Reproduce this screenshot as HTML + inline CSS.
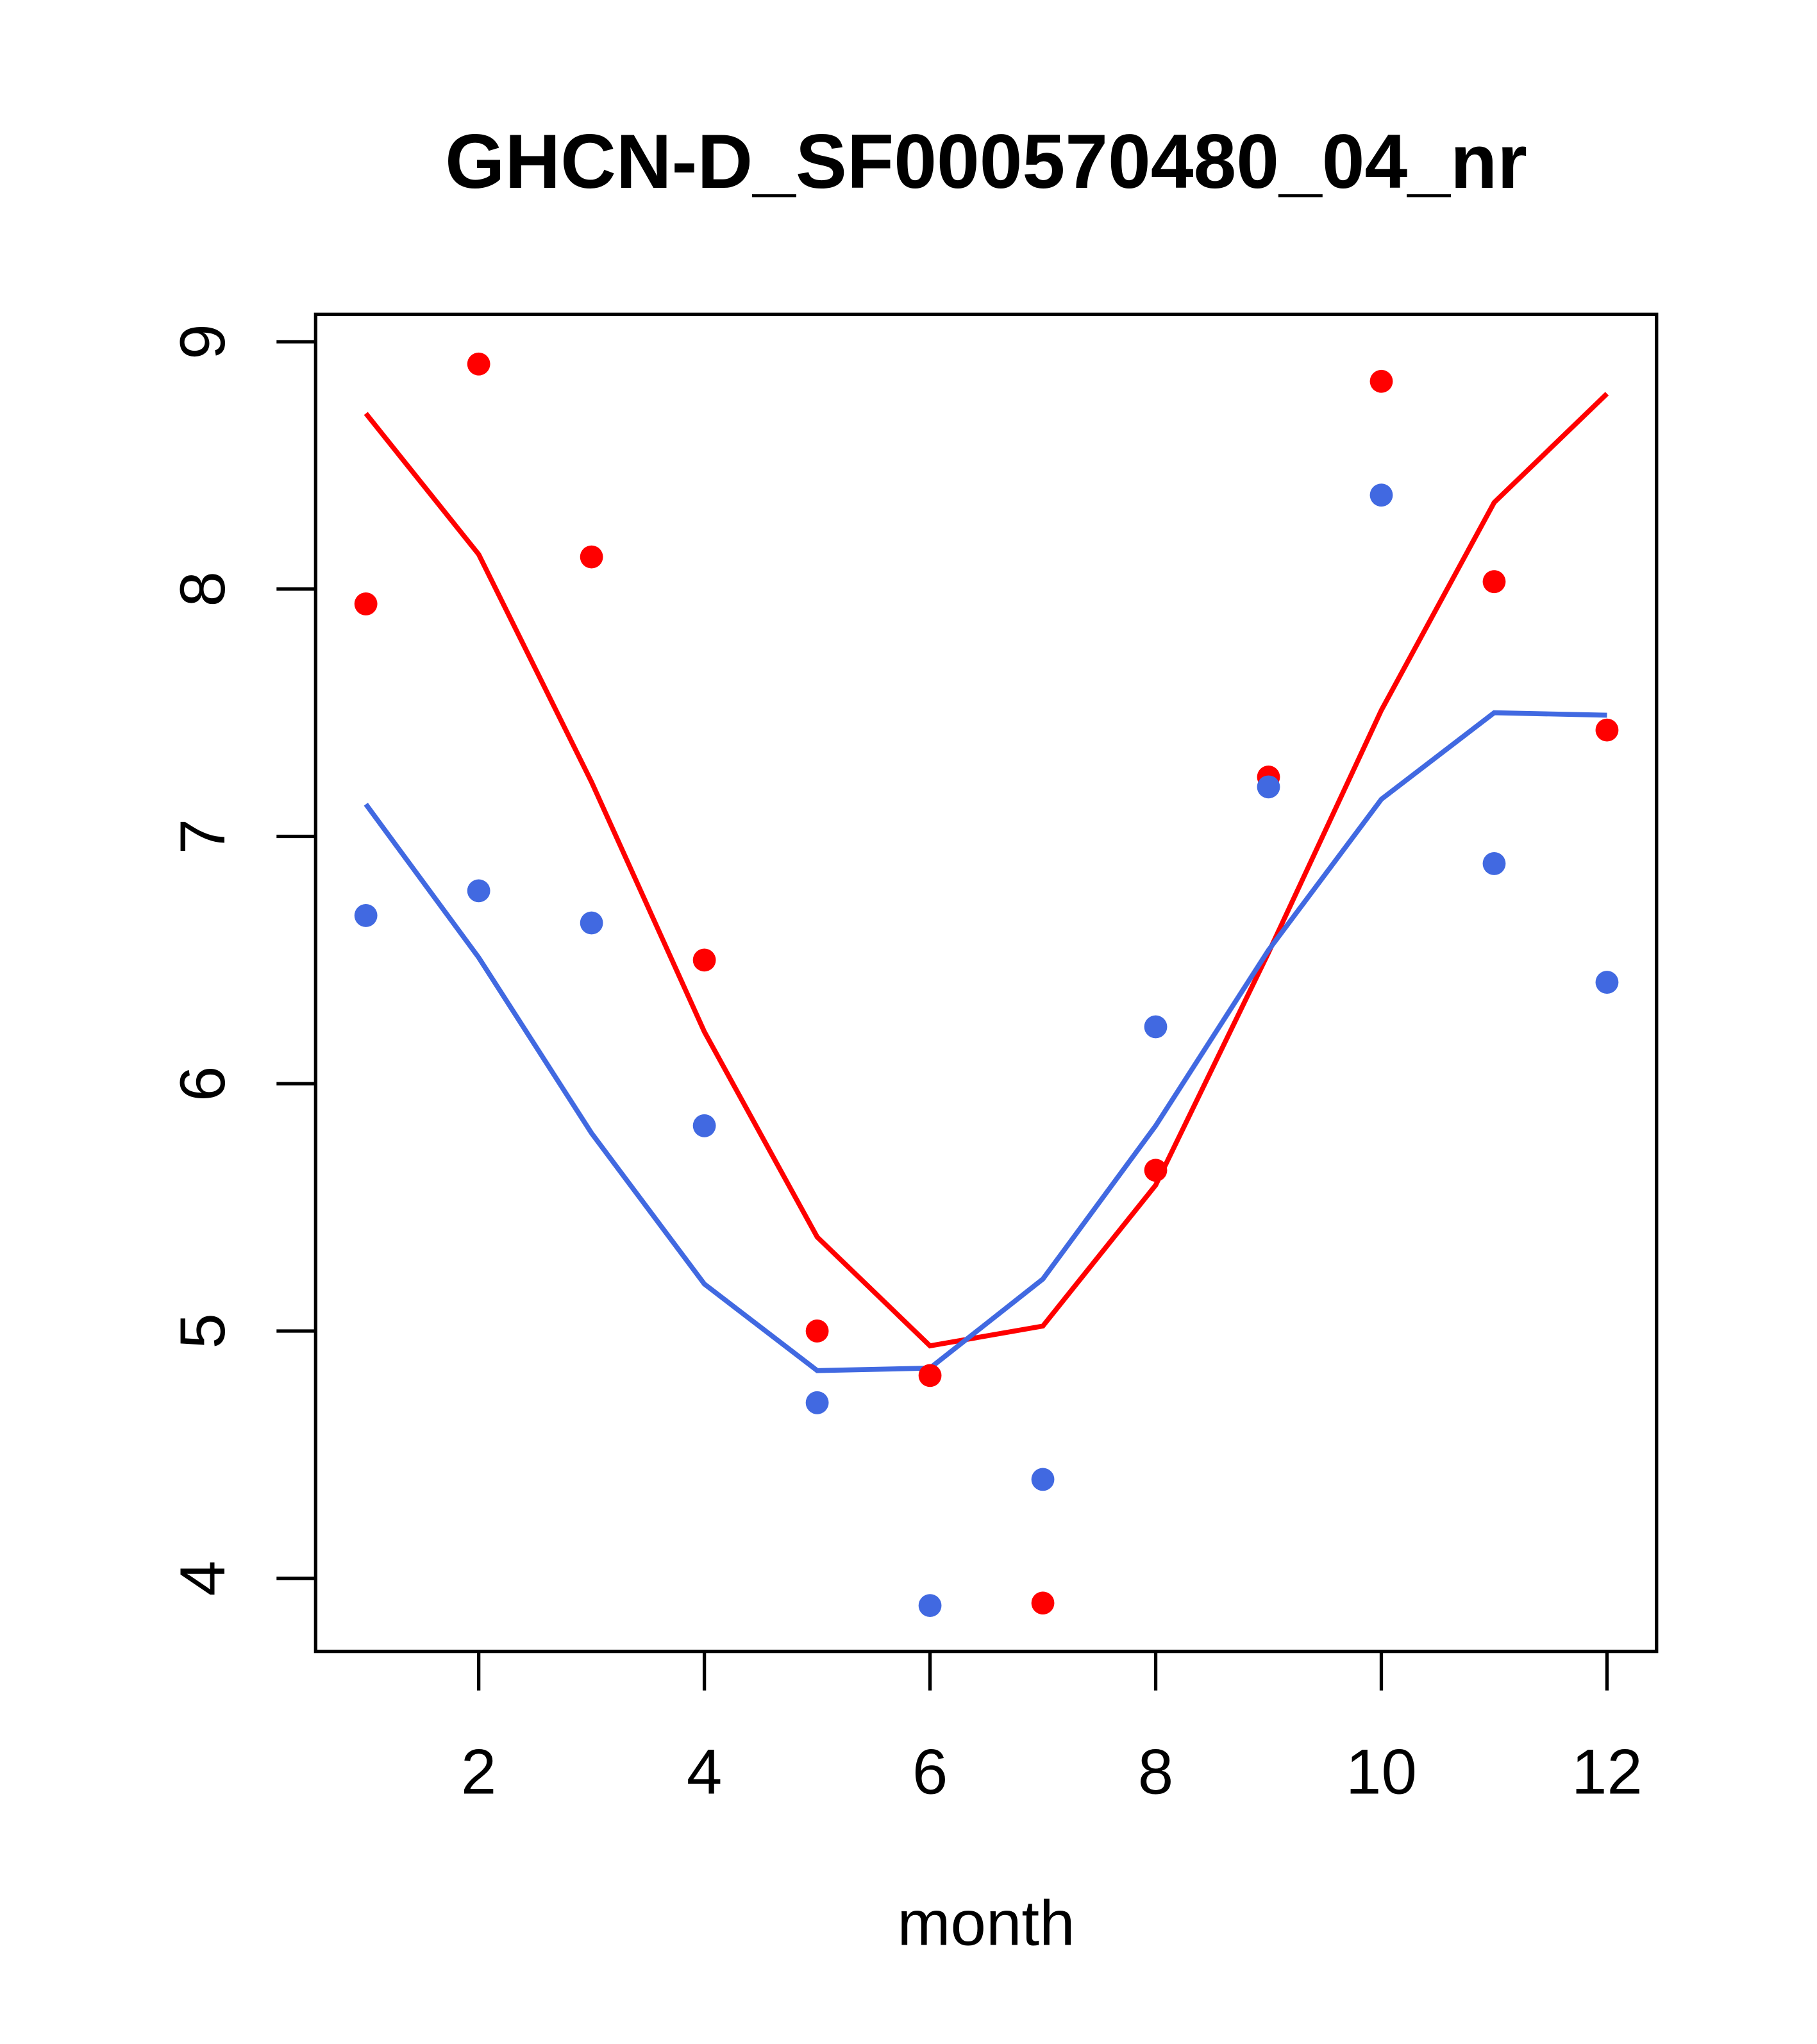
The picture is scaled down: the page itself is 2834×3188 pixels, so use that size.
<!DOCTYPE html>
<html><head><meta charset="utf-8">
<style>
html,body{margin:0;padding:0;background:#fff;}
svg{display:block;}
text{font-family:"Liberation Sans",Arial,sans-serif;}
</style></head>
<body>
<svg id="chart" width="2834" height="3188" viewBox="0 0 1393 1567" xmlns="http://www.w3.org/2000/svg">
<rect width="1393" height="1567" fill="#fff"/>
<text x="756" y="144" font-size="59" font-weight="bold" text-anchor="middle">GHCN-D_SF000570480_04_nr</text>
<rect x="242" y="241" width="1028" height="1025" fill="none" stroke="#000" stroke-width="2.6"/>
<g id="axes"></g>
<g id="series"></g>
<text x="756" y="1491" font-size="49" text-anchor="middle">month</text>
</svg>
<script>
const months = [1,2,3,4,5,6,7,8,9,10,11,12];
const redPoints = [7.94,8.91,8.13,6.50,5.00,4.82,3.90,5.65,7.24,8.84,8.03,7.43];
const redLine = [8.71,8.14,7.22,6.21,5.38,4.94,5.02,5.59,6.53,7.51,8.35,8.79];
const bluePoints = [6.68,6.78,6.65,5.83,4.71,3.89,4.40,6.23,7.20,8.38,6.89,6.41];
const blueLine = [7.13,6.51,5.80,5.19,4.84,4.85,5.21,5.83,6.54,7.15,7.50,7.49];
const xTicks = [2,4,6,8,10,12];
const yTicks = [4,5,6,7,8,9];

const NS = "http://www.w3.org/2000/svg";
function xs(v){ return 367 + (v-2)*86.5; }
function ys(v){ return 262 + (9-v)*189.6; }
function mk(tag, attrs, parent){
  const e = document.createElementNS(NS, tag);
  for (const k in attrs) e.setAttribute(k, attrs[k]);
  parent.appendChild(e); return e;
}
const axes = document.getElementById('axes');
const series = document.getElementById('series');

xTicks.forEach(t=>{
  const l = mk('line',{x1:xs(t),x2:xs(t),y1:1266,y2:1296,stroke:'#000','stroke-width':2.6},axes);
  
  
  const tx = mk('text',{x:xs(t),y:1375,'font-size':49,'text-anchor':'middle'},axes);
  tx.textContent = t;
  
  
});
yTicks.forEach(t=>{
  const l = mk('line',{x1:212,x2:242,y1:ys(t),y2:ys(t),stroke:'#000','stroke-width':2.6},axes);
  
  
  const tx = mk('text',{x:0,y:0,'font-size':49,'text-anchor':'middle',transform:`translate(172,${ys(t)}) rotate(-90)`},axes);
  tx.textContent = t;
  
  
});

function drawLine(vals,color,name){
  const pts = vals.map((v,i)=>xs(months[i])+','+ys(v)).join(' ');
  const p = mk('polyline',{points:pts,fill:'none',stroke:color,'stroke-width':3.8},series);
  
  
}
function drawPoints(vals,color,name){
  vals.forEach((v,i)=>{
    const c = mk('circle',{cx:xs(months[i]),cy:ys(v),r:8.8,fill:color},series);
    
    
  });
}
drawLine(redLine,'#ff0000','red-line');
drawLine(blueLine,'#4169e1','blue-line');
drawPoints(redPoints,'#ff0000','red-point');
drawPoints(bluePoints,'#4169e1','blue-point');
</script>
</body></html>
